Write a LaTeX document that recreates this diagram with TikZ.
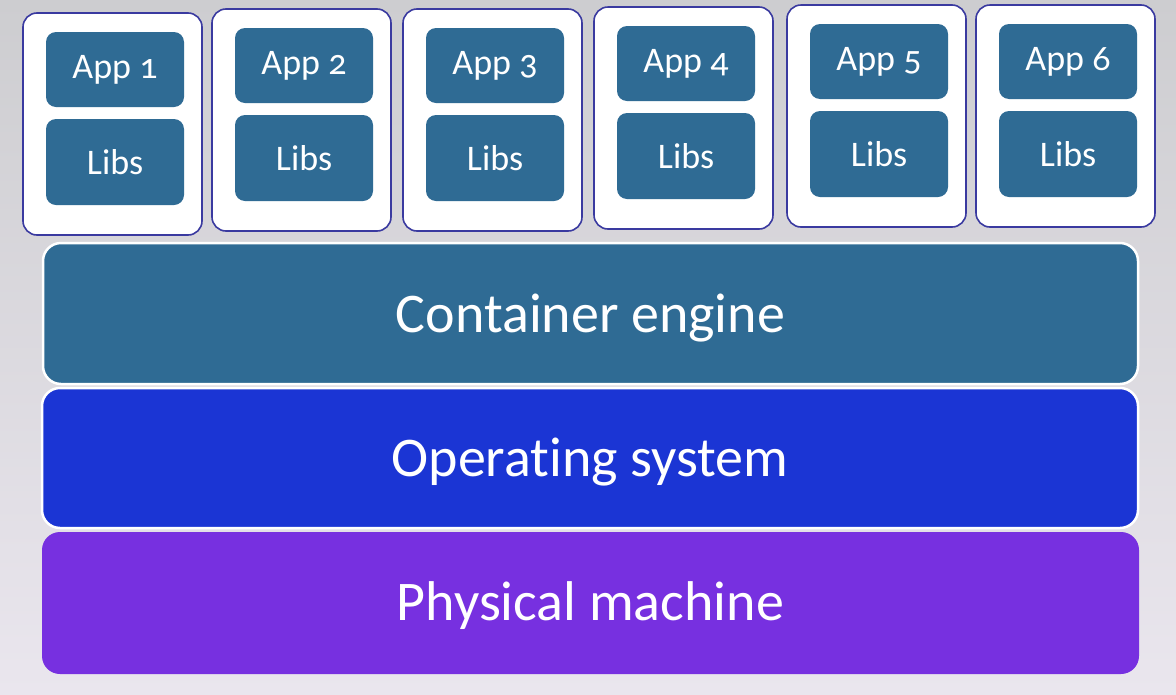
\documentclass[tikz,border=0pt]{standalone}
\usepackage{fontspec}
\setmainfont{Carlito}[Numbers=OldStyle,Ligatures=NoCommon]
\definecolor{bgtop}{HTML}{CDCDD0}
\definecolor{bgbot}{HTML}{EAE6EE}
\definecolor{tealbox}{HTML}{2F6B94}
\definecolor{osblue}{HTML}{1B35D4}
\definecolor{pmpurple}{HTML}{7730E0}
\definecolor{cborder}{HTML}{3A3AA0}
\begin{document}
\begin{tikzpicture}[x=1pt,y=-1pt,
  container/.style={draw=cborder,line width=1.6pt,fill=white,rounded corners=14pt,
    minimum width=179pt,minimum height=222pt,inner sep=0pt},
  innerbox/.style={fill=tealbox,rounded corners=10pt,text=white,font=\fontsize{36}{40}\selectfont,
    minimum width=138pt,inner sep=0pt},
  bar/.style={draw=white,line width=2.5pt,rounded corners=18pt,text=white,
    font=\fontsize{56}{60}\selectfont,inner sep=0pt,minimum width=1096pt,minimum height=141pt},
  bartext/.style={text=white,font=\fontsize{56}{60}\selectfont,inner sep=0pt}
]
\shade[top color=bgtop,bottom color=bgbot] (0,0) rectangle (1176,694);
\useasboundingbox (0,0) rectangle (1176,694);
\foreach \i/\x/\y in {1/23/13,2/212/9,3/403/9,4/594/7,5/787/5,6/976/5}{
  \node[container] (c\i) at (\x+89.5,\y+111) {};
  \node[innerbox,minimum height=75pt] (app\i) at (\x+92,\y+56.5) {App \i};
  \node[innerbox,minimum height=86pt] (libs\i) at (\x+92,\y+149) {Libs};
}
\node[bar,fill=tealbox,minimum width=1095pt] (ce) at (590.5,313.5) {};
\node[bartext] (cet) at (590.5,318) {Container engine};
\node[bar,fill=osblue,minimum height=140pt] (os) at (590,458) {};
\node[bartext] (ost) at (590,462) {Operating system};
\node[bar,fill=pmpurple,draw=none,minimum width=1097pt,minimum height=142pt] (pm) at (590.5,603) {};
\node[bartext] (pmt) at (590.5,606) {Physical machine};
\end{tikzpicture}
\end{document}
